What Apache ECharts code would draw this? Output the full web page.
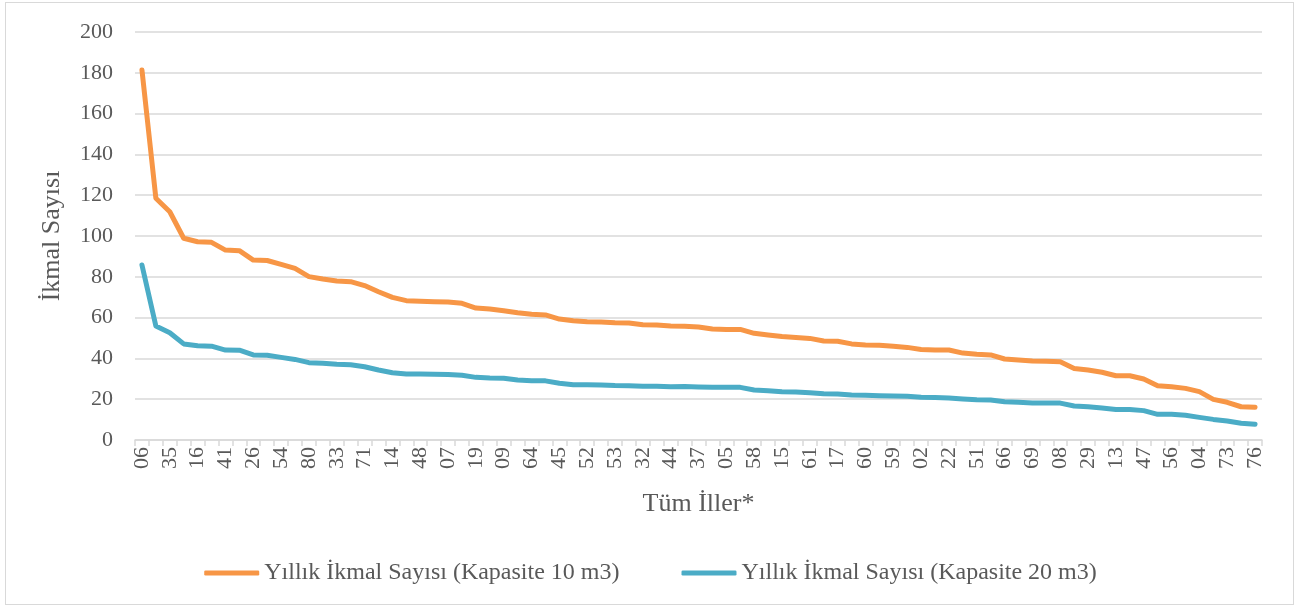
<!DOCTYPE html>
<html>
<head>
<meta charset="utf-8">
<script src="https://cdn.jsdelivr.net/npm/echarts@6/dist/echarts.min.js"></script>
<style>
  html, body { margin: 0; padding: 0; background: #fff; }
  #frame { position: absolute; left: 5px; top: 2px; width: 1287px; height: 601px; border: 1px solid #d9d9d9; }
  #chart { position: absolute; left: 0; top: 0; width: 1301px; height: 608px; }
</style>
</head>
<body>
<div id="frame"></div>
<div id="chart"></div>
<script>
// province plate codes, sorted by the 10 m3 value (only every second one is labelled)
const iller = [
  '06', '01', '35', '03', '16', '10', '41', '11', '26', '12',
  '54', '18', '80', '20', '33', '21', '71', '23', '14', '24',
  '48', '25', '07', '27', '19', '28', '09', '30', '64', '31',
  '45', '34', '52', '36', '53', '38', '32', '39', '44', '40',
  '37', '42', '05', '43', '58', '46', '15', '49', '61', '50',
  '17', '55', '60', '57', '59', '62', '02', '63', '22', '65',
  '51', '67', '66', '68', '69', '70', '08', '72', '29', '74',
  '13', '75', '47', '77', '56', '78', '04', '79', '73', '81',
  '76'
];

const kapasite10 = [
  181.4, 118.5, 111.9, 98.9, 97.2, 96.9, 93.1, 92.8, 88.2, 88.0,
  86.1, 84.1, 80.1, 78.9, 77.9, 77.6, 75.7, 72.7, 69.9, 68.3,
  68.0, 67.8, 67.6, 67.0, 64.7, 64.2, 63.4, 62.4, 61.6, 61.3,
  59.3, 58.5, 58.0, 57.8, 57.5, 57.4, 56.5, 56.4, 55.9, 55.7,
  55.4, 54.4, 54.2, 54.2, 52.3, 51.5, 50.7, 50.3, 49.8, 48.5,
  48.4, 47.1, 46.6, 46.4, 45.9, 45.4, 44.4, 44.1, 44.1, 42.6,
  42.0, 41.7, 39.7, 39.2, 38.7, 38.6, 38.4, 35.1, 34.3, 33.2,
  31.5, 31.5, 29.9, 26.6, 26.1, 25.3, 23.7, 19.9, 18.5, 16.3,
  16.0
];

const kapasite20 = [
  85.8, 55.9, 52.6, 47.1, 46.2, 46.0, 44.1, 44.0, 41.7, 41.5,
  40.5, 39.5, 37.9, 37.6, 37.1, 36.9, 35.9, 34.3, 33.0, 32.4,
  32.3, 32.2, 32.1, 31.7, 30.7, 30.4, 30.3, 29.4, 29.1, 29.0,
  27.8, 27.1, 27.1, 27.0, 26.7, 26.6, 26.4, 26.4, 26.1, 26.2,
  26.0, 25.8, 25.8, 25.8, 24.5, 24.2, 23.7, 23.5, 23.2, 22.7,
  22.5, 22.1, 21.9, 21.7, 21.6, 21.4, 20.9, 20.8, 20.6, 20.1,
  19.7, 19.6, 18.8, 18.5, 18.1, 18.1, 18.1, 16.7, 16.3, 15.7,
  15.0, 15.0, 14.4, 12.6, 12.6, 12.1, 11.1, 10.1, 9.3, 8.2,
  7.7
];

const seriesNames = [
  'Yıllık İkmal Sayısı (Kapasite 10 m3)',
  'Yıllık İkmal Sayısı (Kapasite 20 m3)'
];

const font = 'Liberation Serif';
const textColor = '#595959';

const chart = echarts.init(document.getElementById('chart'));
chart.setOption({
  backgroundColor: 'transparent',
  animation: false,
  color: ['#F79646', '#4BACC6'],
  grid: {
    left: 135,
    right: 39,
    top: 32,
    bottom: 168,
    containLabel: false
  },
  legend: {
    bottom: 18,
    left: 'center',
    icon: 'roundRect',
    itemWidth: 55,
    itemHeight: 5,
    itemGap: 62,
    textStyle: { fontFamily: font, fontSize: 24, color: textColor },
    data: seriesNames
  },
  xAxis: {
    type: 'category',
    data: iller,
    name: 'Tüm İller*',
    nameLocation: 'middle',
    nameGap: 51,
    nameTextStyle: { fontFamily: font, fontSize: 26, color: textColor },
    axisLine: { lineStyle: { color: '#d9d9d9', width: 1.5 } },
    axisTick: { show: true, interval: 0, length: 6, lineStyle: { color: '#d9d9d9', width: 1.5 } },
    axisLabel: {
      interval: 1,
      rotate: 90,
      margin: 7,
      fontFamily: font,
      fontSize: 22,
      color: textColor
    }
  },
  yAxis: {
    type: 'value',
    min: 0,
    max: 200,
    interval: 20,
    name: 'İkmal Sayısı',
    nameLocation: 'middle',
    nameGap: 70,
    nameTextStyle: { fontFamily: font, fontSize: 26, color: textColor },
    axisLine: { show: false },
    axisTick: { show: false },
    axisLabel: { margin: 22, fontFamily: font, fontSize: 22, color: textColor },
    splitLine: { lineStyle: { color: '#d9d9d9', width: 1.5 } }
  },
  series: [
    {
      name: seriesNames[0],
      type: 'line',
      data: kapasite10,
      showSymbol: false,
      symbol: 'none',
      lineStyle: { width: 5, cap: 'round', join: 'round' }
    },
    {
      name: seriesNames[1],
      type: 'line',
      data: kapasite20,
      showSymbol: false,
      symbol: 'none',
      lineStyle: { width: 5, cap: 'round', join: 'round' }
    }
  ]
});
</script>
</body>
</html>
